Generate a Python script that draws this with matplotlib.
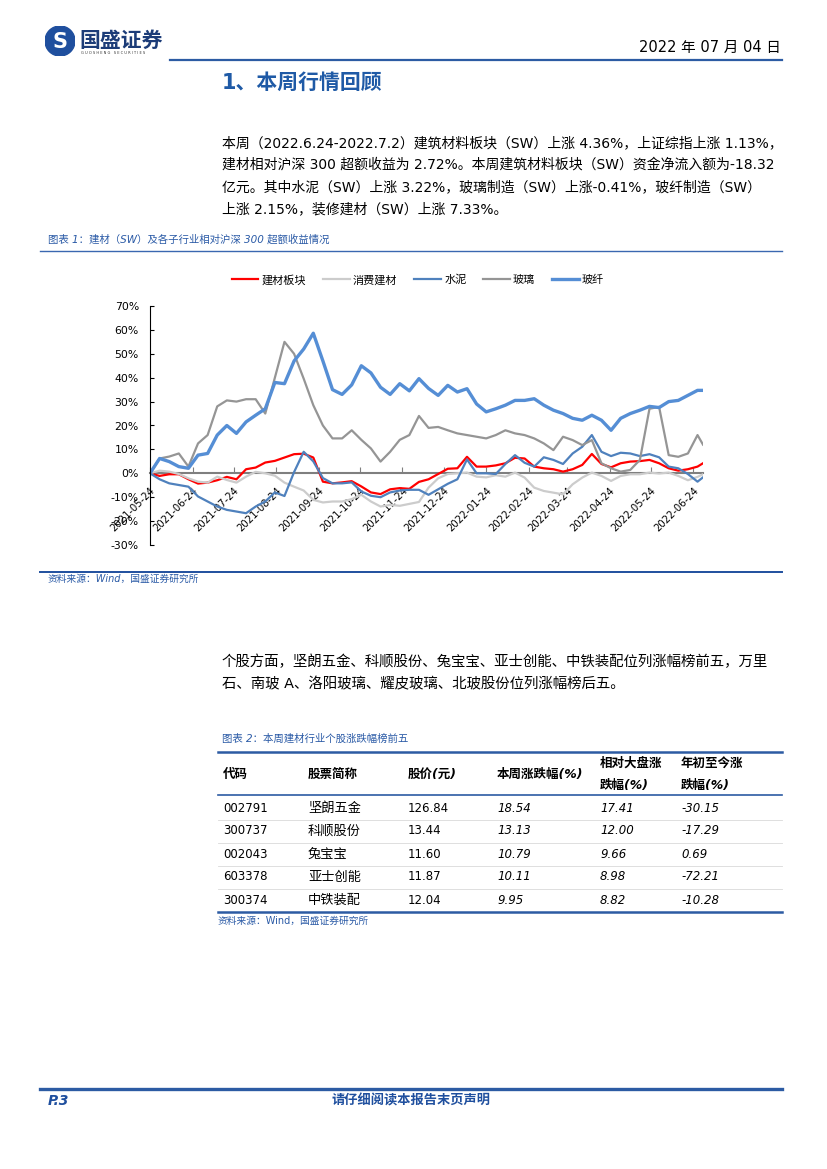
import matplotlib
matplotlib.use('Agg')
import matplotlib.pyplot as plt
from matplotlib.lines import Line2D
from matplotlib.patches import Circle
import pandas as pd

plt.rcParams['font.family'] = ['DejaVu Sans', 'Noto Sans CJK SC']

W, H = 827, 1169
BLUE = '#2a5aa6'


def fx(px):
    return px / W


def fy(py):
    return 1 - py / H


# weekly sample dates (every 7 days) + last trading day
dates = list(pd.date_range('2021-05-24', periods=58, freq='7D')) + [pd.Timestamp('2022-07-01')]

jiancai = [0, -1.1, -0.4, -0.4, -2.5, -4.3, -3.9, -2.9, -1.5, -2.5,
           1.7, 2.4, 4.5, 5.2, 6.6, 8.0, 8.2, 6.6, -3.5, -4.2,
           -3.8, -3.3, -5.5, -8.0, -8.7, -6.7, -6.2, -6.5, -3.6, -2.5,
           -0.3, 1.9, 2.1, 6.9, 2.8, 2.8, 3.3, 4.2, 6.5, 6.2,
           2.8, 2.1, 1.7, 0.7, 1.7, 3.5, 8.1, 3.9, 2.5, 4.2,
           4.9, 5.1, 5.6, 4.2, 2.1, 1.1, 1.7, 2.8, 4.2]
xiaofei = [0, 1.1, 0.7, -0.3, -2.1, -3.5, -3.9, -1.4, -2.8, -3.9,
           -1.4, 0.6, 0, -1.0, -3.9, -5.6, -7.2, -11.1, -12.2, -11.8,
           -11.8, -10.8, -9.0, -11.8, -13.9, -13.2, -13.6, -12.8, -12.0, -6.0,
           -2.1, -0.3, 0, 0.3, -1.4, -1.7, -0.8, -1.4, 0.3, -1.8,
           -6.0, -7.4, -8.1, -8.8, -4.6, -1.8, 0.3, -1.1, -3.2, -1.1,
           -0.4, -0.4, 0.3, -0.1, 0.3, -1.1, -2.9, -1.5, -0.4]
shuini = [0, -2.5, -4.2, -4.9, -5.6, -9.7, -11.8, -13.9, -15.3, -16.0,
          -16.7, -13.9, -11.8, -8.0, -9.5, 0.5, 9.0, 5.0, -2.0, -4.2,
          -4.2, -3.8, -7.6, -9.4, -10.0, -8.0, -7.2, -6.9, -6.9, -9.0,
          -6.7, -4.4, -2.5, 5.8, 0, 0, -0.3, 3.9, 7.6, 4.4,
          2.8, 6.7, 5.6, 3.9, 8.3, 11.1, 16.0, 9.0, 7.2, 8.6,
          8.3, 7.2, 8.0, 6.7, 2.8, 2.1, -0.3, -3.5, -1.7]
boli = [0, 6.2, 7.0, 8.3, 2.8, 12.5, 16.0, 28.0, 30.5, 30.0,
        31.0, 31.0, 25.0, 40.0, 55.0, 50.0, 39.6, 28.5, 20.0, 14.6,
        14.6, 18.0, 14.0, 10.4, 4.9, 9.0, 14.0, 16.0, 24.0, 19.0,
        19.4, 18.0, 16.7, 16.0, 15.3, 14.6, 16.0, 18.0, 16.7, 16.0,
        14.6, 12.5, 9.7, 15.3, 13.9, 11.8, 13.9, 4.2, 2.1, 0.7,
        1.4, 5.6, 27.0, 27.8, 7.6, 6.9, 8.3, 16.0, 12.0]
boxian = [0, 6.2, 4.9, 2.8, 2.1, 7.6, 8.3, 16.0, 20.0, 16.7,
          21.5, 24.3, 27.0, 38.0, 37.5, 47.0, 52.0, 58.6, 47.0, 35.0,
          33.0, 37.0, 45.0, 42.0, 36.0, 33.0, 37.5, 34.5, 39.6, 35.5,
          32.6, 36.8, 34.0, 35.4, 29.0, 25.7, 27.0, 28.5, 30.5, 30.5,
          31.2, 28.5, 26.4, 25.0, 23.0, 22.2, 24.3, 22.2, 18.0, 23.0,
          25.0, 26.4, 28.0, 27.5, 30.0, 30.5, 32.6, 34.7, 34.7]

series_names = ['建材板块', '消费建材', '水泥', '玻璃', '玻纤']
series_vals = [jiancai, xiaofei, shuini, boli, boxian]
series_colors = ['#ff0000', '#cccccc', '#4f81bd', '#959595', '#558ed5']
series_lw = [1.6, 1.6, 1.6, 1.6, 2.4]

# table data
codes = ['002791', '300737', '002043', '603378', '300374']
names = ['坚朗五金', '科顺股份', '兔宝宝', '亚士创能', '中铁装配']
prices = [126.84, 13.44, 11.60, 11.87, 12.04]
week_chg = [18.54, 13.13, 10.79, 10.11, 9.95]
rel_chg = [17.41, 12.00, 9.66, 8.98, 8.82]
ytd_chg = [-30.15, -17.29, 0.69, -72.21, -10.28]

fig = plt.figure(figsize=(8.27, 11.69), dpi=100)


def hline(y, x0, x1, color=BLUE, lw=1.0):
    fig.add_artist(Line2D([fx(x0), fx(x1)], [fy(y), fy(y)], color=color, lw=lw,
                          transform=fig.transFigure))


# ---- header ----
lax = fig.add_axes([fx(45), fy(56), 30 / W, 30 / H])
lax.set_xlim(-1, 1)
lax.set_ylim(-1, 1)
lax.set_aspect('equal')
lax.axis('off')
lax.add_patch(Circle((0, 0), 1, color='#1f4f9e'))
lax.text(0, -0.05, 'S', color='white', fontsize=15, fontweight='bold', ha='center', va='center')
fig.text(fx(79), fy(41), '国盛证券', fontsize=15, fontweight='bold', color='#1c3c78', va='center')
fig.text(fx(81), fy(53), 'G U O S H E N G   S E C U R I T I E S', fontsize=2.6, color='#333333', va='center')
fig.text(fx(781), fy(47), '2022 年 07 月 04 日', fontsize=10.5, ha='right', va='center')
hline(60, 170, 782, color='#2c5ba3', lw=1.6)
fig.text(fx(222), fy(83), '1、本周行情回顾', fontsize=15, fontweight='bold', color='#1f5aa6', va='center')

para1 = ['本周（2022.6.24-2022.7.2）建筑材料板块（SW）上涨 4.36%，上证综指上涨 1.13%，',
         '建材相对沪深 300 超额收益为 2.72%。本周建筑材料板块（SW）资金净流入额为-18.32',
         '亿元。其中水泥（SW）上涨 3.22%，玻璃制造（SW）上涨-0.41%，玻纤制造（SW）',
         '上涨 2.15%，装修建材（SW）上涨 7.33%。']
for i, line in enumerate(para1):
    fig.text(fx(222), fy(143 + 22 * i), line, fontsize=10, va='center')

# ---- chart 1 ----
fig.text(fx(48), fy(239), '图表 1：建材（SW）及各子行业相对沪深 300 超额收益情况', fontsize=7.5,
         color=BLUE, style='italic', va='center')
hline(251, 40, 782, color='#3a67b0', lw=1.0)

ax = fig.add_axes([fx(150), fy(545), (703 - 150) / W, (545 - 306) / H])
for name, vals, c, lw in zip(series_names, series_vals, series_colors, series_lw):
    ax.plot(dates, vals, color=c, lw=lw, label=name, solid_joinstyle='round')
ax.set_xlim(pd.Timestamp('2021-05-24'), pd.Timestamp('2022-07-01'))
ax.set_ylim(-30, 70)
ax.spines['top'].set_visible(False)
ax.spines['right'].set_visible(False)
ax.spines['bottom'].set_position(('data', 0))
ax.spines['bottom'].set_color('#7f7f7f')
ax.spines['bottom'].set_linewidth(1.5)
ax.spines['bottom'].set_zorder(1)
ax.spines['left'].set_linewidth(0.8)
ax.set_yticks(range(-30, 71, 10))
ax.set_yticklabels([f'{v}%' for v in range(-30, 71, 10)])
ax.tick_params(axis='y', direction='in', length=3, width=0.8, labelsize=7.8, pad=8)
tick_dates = pd.date_range('2021-05-24', '2022-06-24', freq=pd.DateOffset(months=1))
ax.set_xticks(tick_dates)
ax.set_xticklabels([d.strftime('%Y-%m-%d') for d in tick_dates], rotation=45, ha='right', va='top',
                   rotation_mode='anchor')
ax.tick_params(axis='x', direction='in', length=4, color='#7f7f7f', labelsize=7.2, pad=9)
ax.patch.set_alpha(0)

fig.legend(loc='center', bbox_to_anchor=(fx(418), fy(280)), ncol=5, frameon=False, fontsize=8,
           handlelength=2.4, handletextpad=0.3, columnspacing=1.5)

hline(572, 40, 782, color='#1f4f9e', lw=1.4)
fig.text(fx(48), fy(579), '资料来源：Wind，国盛证券研究所', fontsize=7, color=BLUE, style='italic', va='center')

para2 = ['个股方面，坚朗五金、科顺股份、兔宝宝、亚士创能、中铁装配位列涨幅榜前五，万里',
         '石、南玻 A、洛阳玻璃、耀皮玻璃、北玻股份位列涨幅榜后五。']
for i, line in enumerate(para2):
    fig.text(fx(222), fy(662 + 22 * i), line, fontsize=10.4, va='center')

# ---- table ----
fig.text(fx(222), fy(739), '图表 2：本周建材行业个股涨跌幅榜前五', fontsize=7.5, color=BLUE,
         style='italic', va='center')
hline(752, 218, 782, color='#2c5ba3', lw=1.8)
col_x = [223, 308, 408, 497, 600, 681]
hdr1 = ['代码', '股票简称', '股价(元)', '本周涨跌幅(%)']
for x, t in zip(col_x[:4], hdr1):
    fig.text(fx(x), fy(774), t, fontsize=9, fontweight='bold', style='italic', va='center')
for x, t1 in zip(col_x[4:], ['相对大盘涨', '年初至今涨']):
    fig.text(fx(x), fy(763), t1, fontsize=9, fontweight='bold', style='italic', va='center')
    fig.text(fx(x), fy(785), '跌幅(%)', fontsize=9, fontweight='bold', style='italic', va='center')
hline(795, 218, 782, color='#2c5ba3', lw=1.2)
for i in range(5):
    y = 808 + 23 * i
    fig.text(fx(col_x[0]), fy(y), codes[i], fontsize=8.5, va='center')
    fig.text(fx(col_x[1]), fy(y), names[i], fontsize=9.5, va='center')
    fig.text(fx(col_x[2]), fy(y), f'{prices[i]:.2f}', fontsize=8.5, va='center')
    fig.text(fx(col_x[3]), fy(y), f'{week_chg[i]:.2f}', fontsize=8.5, style='italic', va='center')
    fig.text(fx(col_x[4]), fy(y), f'{rel_chg[i]:.2f}', fontsize=8.5, style='italic', va='center')
    fig.text(fx(col_x[5]), fy(y), f'{ytd_chg[i]:.2f}', fontsize=8.5, style='italic', va='center')
    if i < 4:
        hline(y + 11.5, 218, 782, color='#d9d9d9', lw=0.6)
hline(912, 218, 782, color='#2c5ba3', lw=1.8)
fig.text(fx(218), fy(921), '资料来源：Wind，国盛证券研究所', fontsize=7, color=BLUE, va='center')

# ---- footer ----
hline(1089, 40, 782, color='#2c5ba3', lw=2.4)
fig.text(fx(48), fy(1101), 'P.3', fontsize=10, fontweight='bold', style='italic', color='#1f4f9e', va='center')
fig.text(fx(411), fy(1101), '请仔细阅读本报告末页声明', fontsize=9.5, fontweight='bold', style='italic',
         color='#1f4f9e', ha='center', va='center')

fig.savefig('out.png', dpi=100)
